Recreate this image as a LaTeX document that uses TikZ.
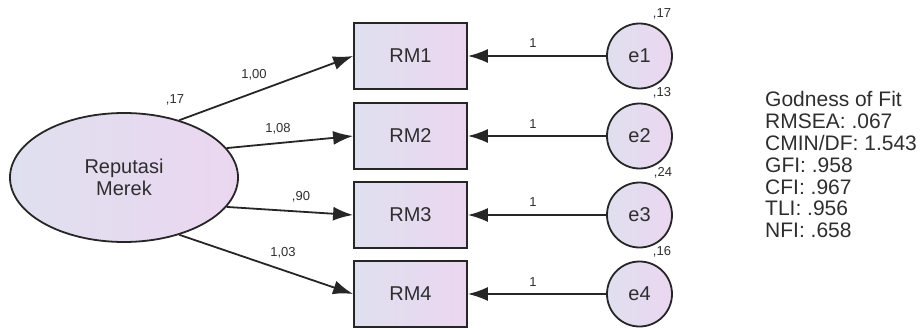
\documentclass[tikz,border=0pt]{standalone}
\usepackage{fontspec}
\setmainfont{Liberation Sans}
\usetikzlibrary{arrows.meta,shapes.geometric}
\definecolor{ink}{HTML}{262626}
\definecolor{txt}{HTML}{2E2E2E}
\definecolor{fillL}{HTML}{DFE0EF}
\definecolor{fillR}{HTML}{EBD6F0}
\tikzset{
  x=1pt, y=-1pt,
  shaded/.style={draw=ink, line width=1.8pt, left color=fillL, right color=fillR, text=txt,
    font=\fontsize{20}{22}\selectfont, inner sep=0pt},
  latent/.style={shaded, ellipse, minimum width=228pt, minimum height=129pt, align=center},
  indicator/.style={shaded, rectangle, minimum width=113pt, minimum height=66pt},
  errterm/.style={shaded, circle, minimum size=65pt},
  path/.style={draw=ink, line width=1.8pt, -{Latex[length=20pt,width=14pt]}},
  est/.style={font=\fontsize{13}{14}\selectfont, text=txt, inner sep=0pt},
}
\begin{document}
\begin{tikzpicture}
\useasboundingbox (0,0) rectangle (921,329);

% latent construct
\node[latent] (RP) at (124,177.5) {Reputasi\\Merek};

% indicators
\node[indicator] (RM1) at (410.5,56)  {RM1};
\node[indicator] (RM2) at (410.5,136) {RM2};
\node[indicator] (RM3) at (410.5,215) {RM3};
\node[indicator] (RM4) at (410.5,294) {RM4};

% error terms
\node[errterm] (e1) at (639.5,56)  {e1};
\node[errterm] (e2) at (639.5,136) {e2};
\node[errterm] (e3) at (639.5,215) {e3};
\node[errterm] (e4) at (639.5,294) {e4};

% loadings
\draw[path] (RP.46)  -- (RM1.west);
\draw[path] (RP.16)  -- (RM2.west);
\draw[path] (RP.-16) -- (RM3.west);
\draw[path] (RP.-46) -- (RM4.west);

% error paths
\draw[path] (e1.west) -- (RM1.east);
\draw[path] (e2.west) -- (RM2.east);
\draw[path] (e3.west) -- (RM3.east);
\draw[path] (e4.west) -- (RM4.east);

% estimates
\node[est] (l1) at (254,75)  {1,00};
\node[est] (l2) at (278,129) {1,08};
\node[est] (l3) at (301,197) {,90};
\node[est] (l4) at (283,253) {1,03};
\node[est] (vR) at (175,100) {,17};

\node[est] (w1) at (533,43)  {1};
\node[est] (w2) at (533,124) {1};
\node[est] (w3) at (533,202) {1};
\node[est] (w4) at (533,282) {1};

\node[est] (v1) at (662,14)  {,17};
\node[est] (v2) at (662,93)  {,13};
\node[est] (v3) at (663,173) {,24};
\node[est] (v4) at (662,252) {,16};

% fit indices
\node[anchor=north west, align=left, inner sep=0pt, text=txt,
  font=\fontsize{21}{21.9}\selectfont] (fit) at (765,91)
  {Godness of Fit\\RMSEA: .067\\CMIN/DF: 1.543\\GFI: .958\\CFI: .967\\TLI: .956\\NFI: .658};
\end{tikzpicture}
\end{document}
